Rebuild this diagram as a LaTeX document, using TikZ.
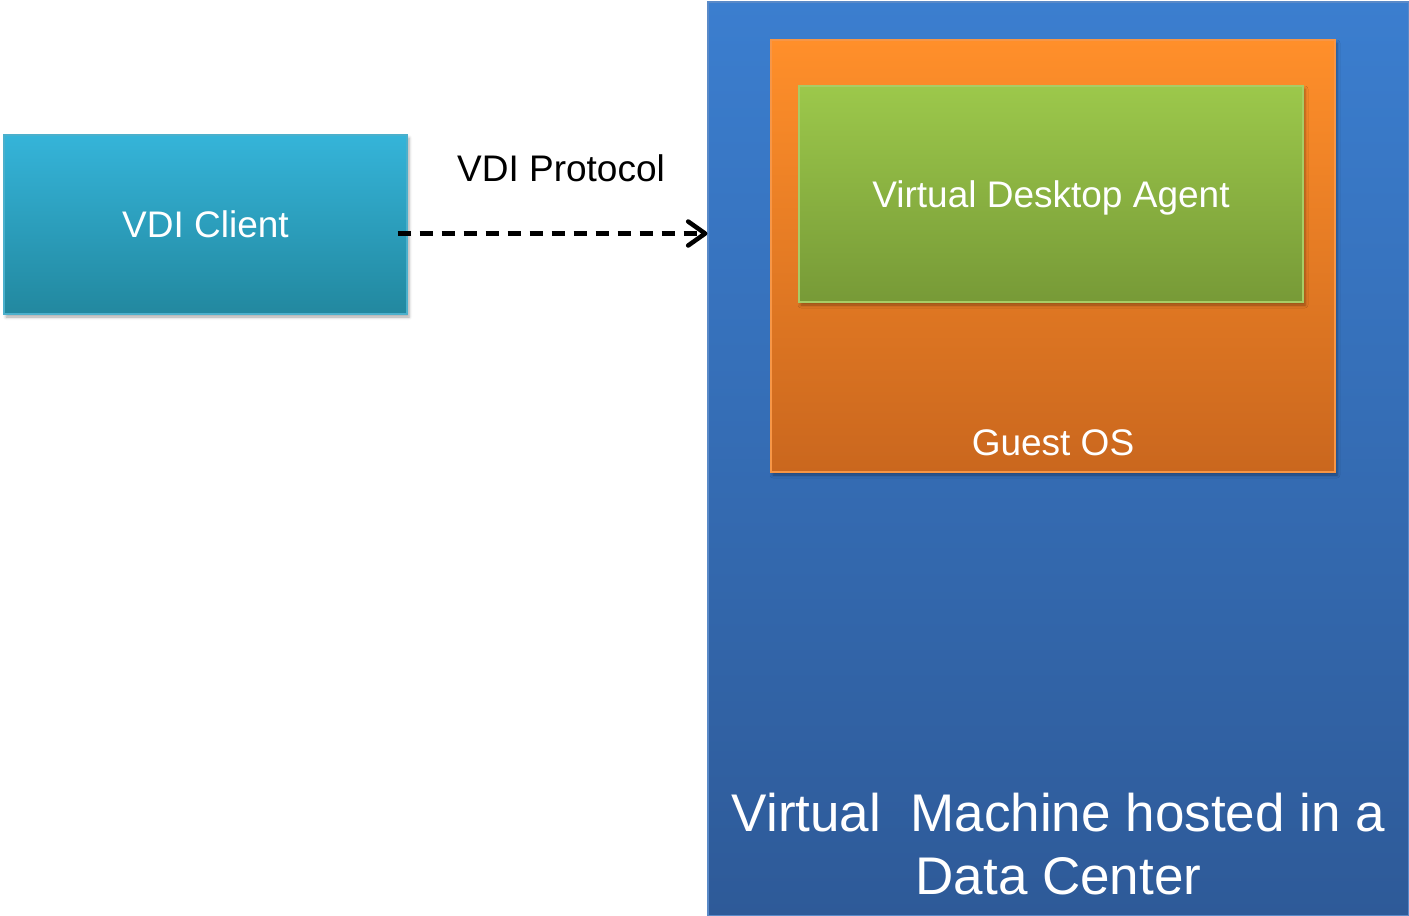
\documentclass[tikz,border=0pt]{standalone}
\usepackage{fontspec}
\setmainfont{Liberation Sans}
\usepackage{tikz}
\usetikzlibrary{arrows.meta, shadows.blur}

\definecolor{clienttop}{HTML}{35B4D9}
\definecolor{clientbot}{HTML}{22889F}
\definecolor{clientedge}{HTML}{4BB0CC}
\definecolor{vmtop}{HTML}{3B7ECF}
\definecolor{vmbot}{HTML}{2E5A98}
\definecolor{vmedge}{HTML}{5A8AC8}
\definecolor{ostop}{HTML}{FF8F2A}
\definecolor{osbot}{HTML}{CA671E}
\definecolor{osedge}{HTML}{F79646}
\definecolor{agenttop}{HTML}{9CC84B}
\definecolor{agentbot}{HTML}{779A37}
\definecolor{agentedge}{HTML}{A8CC66}

\tikzset{
  boxshadow/.style={blur shadow={shadow xshift=2pt, shadow yshift=-3pt,
      shadow blur radius=3pt, shadow opacity=35}},
  layerbox/.style={rectangle, line width=1.2pt, inner sep=0pt, boxshadow},
  boxtext/.style={text=white, font=\fontsize{37}{44}\selectfont},
  bigtext/.style={text=white, font=\fontsize{53}{63}\selectfont, align=center},
  protoarrow/.style={line width=4.5pt, dash pattern=on 13pt off 9pt,
      -{Straight Barb[length=17pt, width=24pt, line cap=round, line join=round]}}
}

\begin{document}
\begin{tikzpicture}[x=1pt, y=-1pt]
  \useasboundingbox (0,0) rectangle (1409,916);

  % data center side
  \node[layerbox, draw=vmedge, top color=vmtop, bottom color=vmbot,
        minimum width=701pt, minimum height=914pt] (vm) at (1058.5,459) {};
  \node[layerbox, draw=osedge, top color=ostop, bottom color=osbot,
        minimum width=564pt, minimum height=432pt] (guestos) at (1053,256) {};
  \node[layerbox, draw=agentedge, top color=agenttop, bottom color=agentbot,
        minimum width=504pt, minimum height=216pt, boxtext, text depth=0pt]
        (agent) at (1051,194) {Virtual Desktop Agent};
  \node[boxtext, anchor=base] (oslabel) at ([yshift=17pt]guestos.south) {Guest OS};
  \node[bigtext, anchor=south, inner sep=0pt] (vmlabel) at ([yshift=21pt]vm.south)
        {Virtual\ \ Machine hosted in a\\Data Center};

  % client side
  \node[layerbox, draw=clientedge, top color=clienttop, bottom color=clientbot,
        minimum width=403pt, minimum height=179pt, boxtext] (client) at (205.5,224.5)
        {VDI Client};

  % protocol
  \coordinate (arrowstart) at ([xshift=-10pt, yshift=-9pt]client.east);
  \draw[protoarrow] (arrowstart) -- (arrowstart -| vm.west);
  \node[font=\fontsize{37}{44}\selectfont] (proto) at (561,168) {VDI Protocol};
\end{tikzpicture}
\end{document}
